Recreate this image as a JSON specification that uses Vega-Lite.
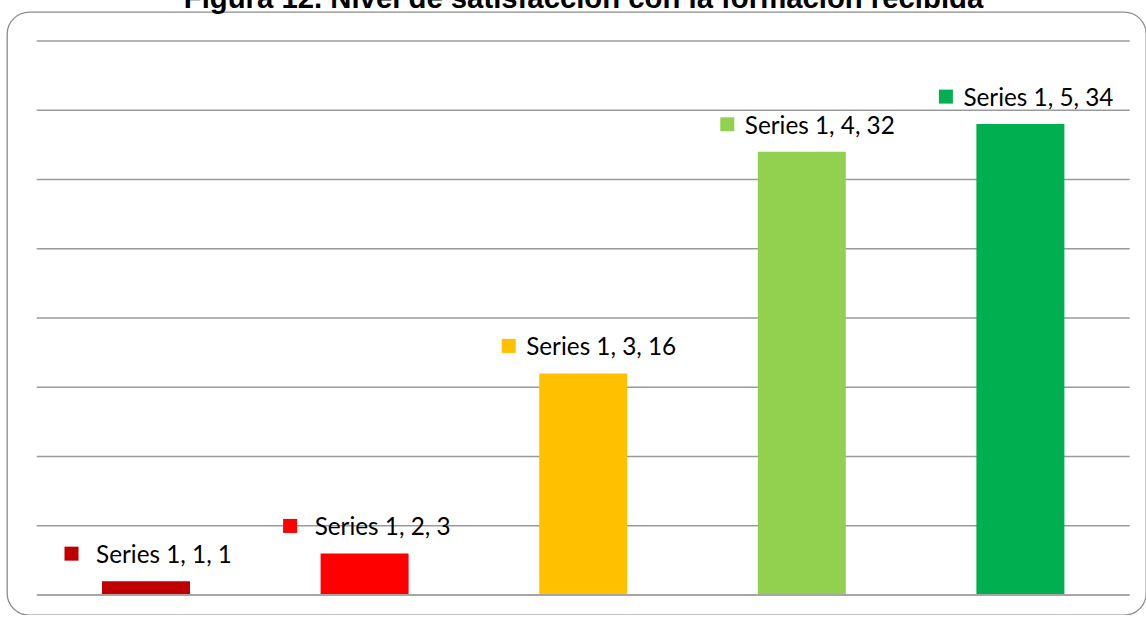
{
  "$schema": "https://vega.github.io/schema/vega-lite/v6.json",
  "autosize": "none",
  "width": 1139,
  "height": 603,
  "padding": {"left": 7, "top": 12, "right": 0, "bottom": 0},
  "background": "white",
  "title": {
    "text": "Figura 12. Nivel de satisfacción con la formación recibida",
    "font": "Liberation Sans",
    "fontSize": 29.3,
    "fontWeight": "bold",
    "color": "#000000",
    "anchor": "middle",
    "frame": "group",
    "baseline": "alphabetic",
    "offset": 0,
    "dx": 7,
    "dy": 25
  },
  "config": {
    "view": {"stroke": "#8c8c8c", "strokeWidth": 1.3, "cornerRadius": 22}
  },
  "data": {
    "values": [
      {"cat": 1, "value": 1, "label": "Series 1, 1, 1"},
      {"cat": 2, "value": 3, "label": "Series 1, 2, 3"},
      {"cat": 3, "value": 16, "label": "Series 1, 3, 16"},
      {"cat": 4, "value": 32, "label": "Series 1, 4, 32"},
      {"cat": 5, "value": 34, "label": "Series 1, 5, 34"}
    ]
  },
  "layer": [
    {
      "data": {"values": [{"g": 5}, {"g": 10}, {"g": 15}, {"g": 20}, {"g": 25}, {"g": 30}, {"g": 35}, {"g": 40}]},
      "mark": {"type": "rule", "color": "#9a9a9a", "strokeWidth": 1.3},
      "encoding": {
        "y": {"field": "g", "type": "quantitative", "axis": null, "scale": {"domain": [-1.444, 42.094], "nice": false, "zero": false, "padding": 0}},
        "x": {"datum": 0.5, "type": "quantitative", "axis": null, "scale": {"domain": [0.3641, 5.5746], "nice": false, "zero": false, "padding": 0}},
        "x2": {"datum": 5.5}
      }
    },
    {
      "mark": {"type": "bar", "width": 88},
      "encoding": {
        "x": {"field": "cat", "type": "quantitative", "axis": null},
        "y": {"field": "value", "type": "quantitative", "axis": null},
        "y2": {"datum": 0},
        "color": {
          "field": "cat", "type": "nominal", "legend": null,
          "scale": {"domain": [1, 2, 3, 4, 5], "range": ["#C00000", "#FF0000", "#FFC000", "#92D050", "#00B050"]}
        }
      }
    },
    {
      "data": {"values": [{"g": 0}]},
      "mark": {"type": "rule", "color": "#a6a6a6", "strokeWidth": 2},
      "encoding": {
        "y": {"field": "g", "type": "quantitative", "axis": null},
        "x": {"datum": 0.5, "type": "quantitative", "axis": null},
        "x2": {"datum": 5.5}
      }
    },
    {
      "mark": {
        "type": "point",
        "shape": "M-81.5,-34.5L-67.5,-34.5L-67.5,-20.5L-81.5,-20.5Z",
        "size": 4,
        "filled": true,
        "opacity": 1,
        "strokeWidth": 0
      },
      "encoding": {
        "x": {"field": "cat", "type": "quantitative", "axis": null},
        "y": {"field": "value", "type": "quantitative", "axis": null},
        "color": {"field": "cat", "type": "nominal", "legend": null}
      }
    },
    {
      "mark": {
        "type": "text",
        "font": "Lato",
        "fontSize": 24.3,
        "color": "#000000",
        "align": "center",
        "baseline": "alphabetic",
        "dx": 18,
        "dy": -18
      },
      "encoding": {
        "x": {"field": "cat", "type": "quantitative", "axis": null},
        "y": {"field": "value", "type": "quantitative", "axis": null},
        "text": {"field": "label", "type": "nominal"}
      }
    }
  ]
}
